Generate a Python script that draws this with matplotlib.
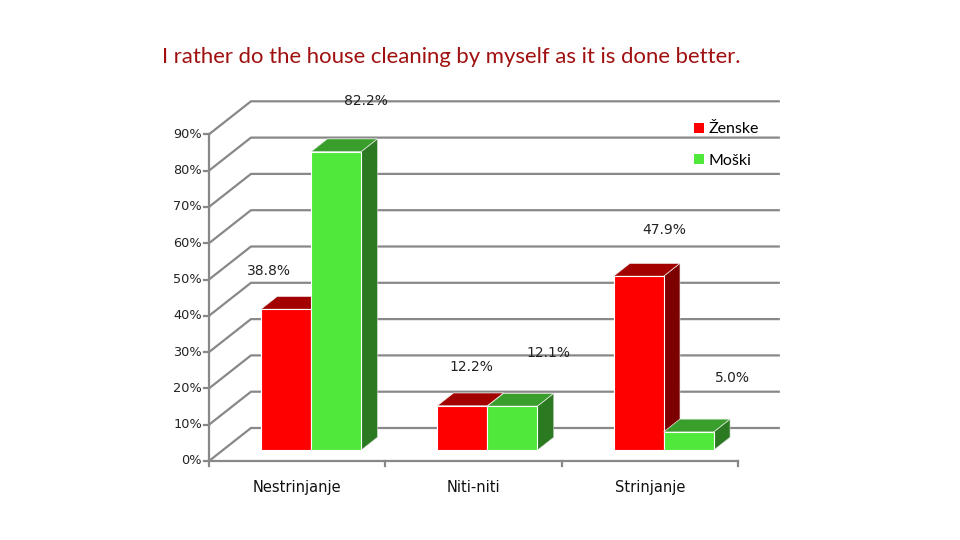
import numpy as np
import matplotlib.pyplot as plt
from matplotlib.patches import Polygon, Patch

# data
categories = ['Nestrinjanje', 'Niti-niti', 'Strinjanje']
series_names = ['Ženske', 'Moški']
zenske = [38.8, 12.2, 47.9]
moski = [82.2, 12.1, 5.0]
y_ticks = [0, 10, 20, 30, 40, 50, 60, 70, 80, 90]
title = 'I rather do the house cleaning by myself as it is done better.'

# colours: front, top, side
red_faces = ('#ff0000', '#a30000', '#7c0000')
green_faces = ('#50e83a', '#3a9e2c', '#2b7a22')
grid_col = '#888888'

# fake 3d geometry (data units: x = category index, y = percent)
DX, DY = 0.238, 9.09          # full depth of the chart box
bar_w = 0.284
off = 0.33                     # bars start this far back in the box
bdep = 0.39                    # bar depth as fraction of box

# label offsets in pixels (Excel puts them a bit oddly)
label_offsets = [[(-17, 38), (9, 39), (26, 46)],
                 [(30, 51), (36, 53), (44, 54)]]

fig = plt.figure(figsize=(9.6, 5.4), dpi=100)
ax = fig.add_axes([0, 0, 1, 1])
px_cat, px_pct = 176.3, 3.63
ax.set_xlim(-209 / px_cat, (960 - 209) / px_cat)
ax.set_ylim((461 - 540) / px_pct, 461 / px_pct)
ax.axis('off')

ncat = len(categories)

# walls / gridlines
for v in y_ticks:
    ax.plot([0, DX, ncat + DX], [v, v + DY, v + DY], color=grid_col, lw=1.6,
            solid_capstyle='butt', zorder=1)
    ax.plot([-0.03, 0], [v, v], color=grid_col, lw=1.6, zorder=1)
    ax.text(-0.04, v, f'{v}%', ha='right', va='center', fontsize=9.3,
            family='DejaVu Sans', color='#222222')
ax.plot([0, 0], [0, max(y_ticks)], color=grid_col, lw=1.6, zorder=1)
ax.plot([0, ncat], [0, 0], color=grid_col, lw=1.6, zorder=1)
for i in range(ncat + 1):
    ax.plot([i, i], [0, -1.5], color=grid_col, lw=1.6, zorder=1)
for i, c in enumerate(categories):
    ax.text(i + 0.5, -7.2, c, ha='center', va='center', fontsize=10.5,
            family='DejaVu Sans', color='#111111')


def draw_bar(x0, v, faces, z):
    ox, oy = off * DX, off * DY
    bx, by = bdep * DX, bdep * DY
    front = [(x0 + ox, oy), (x0 + bar_w + ox, oy),
             (x0 + bar_w + ox, v + oy), (x0 + ox, v + oy)]
    top = [(x0 + ox, v + oy), (x0 + bar_w + ox, v + oy),
           (x0 + bar_w + ox + bx, v + oy + by), (x0 + ox + bx, v + oy + by)]
    side = [(x0 + bar_w + ox, oy), (x0 + bar_w + ox + bx, oy + by),
            (x0 + bar_w + ox + bx, v + oy + by), (x0 + bar_w + ox, v + oy)]
    ax.add_patch(Polygon(side, closed=True, fc=faces[2], ec='#dddddd', lw=0.4, zorder=z))
    ax.add_patch(Polygon(top, closed=True, fc=faces[1], ec='#eeeeee', lw=0.5, zorder=z))
    ax.add_patch(Polygon(front, closed=True, fc=faces[0], ec='white', lw=0.8, zorder=z + 0.5))
    return x0 + ox + bar_w / 2, v + oy


for s, (vals, faces) in enumerate([(zenske, red_faces), (moski, green_faces)]):
    for i, v in enumerate(vals):
        x0 = i + 0.5 - bar_w + s * bar_w
        cx, cy = draw_bar(x0, v, faces, 3 + s)
        ax.annotate(f'{v:.1f}%', (cx, cy), xytext=label_offsets[s][i],
                    textcoords='offset pixels', ha='center', va='center',
                    fontsize=10, family='DejaVu Sans', color='#222222', zorder=10)

fig.text(451 / 960, 1 - 57 / 540, title, ha='center', va='center',
         fontsize=15.9, family='Lato', color='#a01010')

handles = [Patch(fc=red_faces[0], ec='none'), Patch(fc=green_faces[0], ec='none')]
fig.legend(handles, series_names, loc='upper left',
           bbox_to_anchor=(680 / 960, 1 - 108 / 540), frameon=False,
           prop={'family': 'Lato', 'size': 11.5}, handlelength=0.6, handleheight=0.6,
           handletextpad=0.3, labelspacing=1.1)

fig.savefig('out.png', dpi=100, facecolor='white')
